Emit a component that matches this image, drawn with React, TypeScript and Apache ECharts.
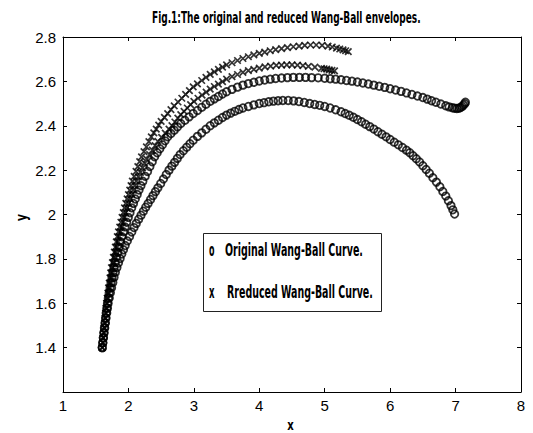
import React, { useEffect, useRef } from "react";
import * as echarts from "echarts";

const titleText = "Fig.1:The original and reduced Wang-Ball envelopes.";
const legendLabels = ["Original Wang-Ball Curve.", "Rreduced Wang-Ball Curve."];
const legendMarks = ["o", "x"];
const xAxisName = "x";
const yAxisName = "y";

// Original Wang-Ball curve (lower envelope, "o")
const originalLower: number[][] = [
  [1.600,1.400],[1.609,1.422],[1.618,1.444],[1.628,1.467],[1.638,1.489],[1.648,1.511],[1.658,1.533],[1.668,1.556],[1.679,1.578],[1.690,1.600],
  [1.707,1.624],[1.724,1.647],[1.742,1.670],[1.761,1.694],[1.780,1.717],[1.800,1.740],
  [1.824,1.761],[1.848,1.782],[1.873,1.802],[1.898,1.822],[1.924,1.841],[1.950,1.860],
  [1.983,1.881],[2.017,1.901],[2.051,1.921],[2.085,1.941],[2.120,1.960],
  [2.156,1.979],[2.192,1.997],[2.228,2.015],[2.264,2.033],[2.300,2.050],
  [2.338,2.068],[2.375,2.085],[2.413,2.103],[2.450,2.120],
  [2.493,2.140],[2.535,2.160],[2.578,2.180],[2.620,2.200],
  [2.663,2.218],[2.705,2.235],[2.748,2.253],[2.790,2.270],
  [2.840,2.287],[2.890,2.303],[2.940,2.319],[2.990,2.335],
  [3.055,2.352],[3.120,2.368],[3.185,2.384],[3.250,2.400],
  [3.313,2.413],[3.375,2.425],[3.438,2.437],[3.500,2.448],
  [3.563,2.457],[3.625,2.465],[3.688,2.473],[3.750,2.480],
  [3.833,2.487],[3.917,2.494],[4.000,2.500],
  [4.072,2.504],[4.144,2.508],[4.216,2.511],[4.288,2.513],[4.360,2.514],
  [4.442,2.514],[4.524,2.512],[4.606,2.509],[4.688,2.505],[4.770,2.500],
  [4.847,2.496],[4.923,2.492],[5.000,2.487],
  [5.083,2.480],[5.167,2.472],[5.250,2.463],
  [5.313,2.455],[5.375,2.447],[5.438,2.438],[5.500,2.428],
  [5.563,2.418],[5.625,2.407],[5.688,2.396],[5.750,2.385],
  [5.813,2.373],[5.875,2.362],[5.938,2.350],[6.000,2.338],
  [6.063,2.326],[6.125,2.314],[6.188,2.302],[6.250,2.290],
  [6.300,2.278],[6.350,2.265],[6.400,2.251],[6.450,2.237],
  [6.500,2.220],[6.550,2.203],[6.600,2.186],
  [6.653,2.166],[6.707,2.146],[6.760,2.125],
  [6.805,2.104],[6.850,2.083],[6.890,2.062],[6.930,2.040],[6.958,2.021],[6.985,2.002],
];

// Original Wang-Ball curve (upper envelope with end hook, "o")
const originalUpper: number[][] = [
  [1.600,1.400],[1.608,1.422],[1.616,1.444],[1.624,1.467],[1.633,1.489],[1.642,1.511],[1.651,1.533],[1.660,1.556],[1.670,1.578],[1.680,1.600],
  [1.693,1.623],[1.706,1.646],[1.720,1.669],[1.734,1.691],[1.749,1.714],[1.764,1.737],[1.780,1.760],
  [1.799,1.784],[1.818,1.807],[1.838,1.830],[1.858,1.853],[1.879,1.877],[1.900,1.900],
  [1.924,1.922],[1.948,1.944],[1.973,1.965],[1.998,1.987],[2.024,2.008],[2.050,2.030],
  [2.077,2.050],[2.105,2.070],[2.134,2.090],[2.162,2.110],[2.191,2.130],[2.220,2.150],
  [2.256,2.172],[2.292,2.194],[2.328,2.216],[2.364,2.238],[2.400,2.260],
  [2.440,2.278],[2.480,2.296],[2.520,2.314],[2.560,2.332],[2.600,2.350],
  [2.650,2.365],[2.700,2.380],[2.750,2.395],[2.800,2.410],
  [2.863,2.425],[2.927,2.440],[2.990,2.455],
  [3.055,2.469],[3.120,2.483],[3.185,2.497],[3.250,2.510],
  [3.313,2.521],[3.375,2.532],[3.438,2.543],[3.500,2.553],
  [3.583,2.564],[3.667,2.574],[3.750,2.583],
  [3.833,2.590],[3.917,2.596],[4.000,2.602],
  [4.083,2.606],[4.167,2.610],[4.250,2.613],
  [4.340,2.615],[4.430,2.617],[4.520,2.618],
  [4.613,2.618],[4.707,2.618],[4.800,2.617],
  [4.900,2.616],[5.000,2.614],
  [5.083,2.612],[5.167,2.610],[5.250,2.607],
  [5.333,2.604],[5.417,2.601],[5.500,2.597],
  [5.583,2.593],[5.667,2.588],[5.750,2.583],
  [5.833,2.578],[5.917,2.573],[6.000,2.567],
  [6.083,2.561],[6.167,2.555],[6.250,2.548],
  [6.333,2.541],[6.417,2.534],[6.500,2.527],
  [6.567,2.520],[6.633,2.513],[6.700,2.506],
  [6.775,2.498],[6.850,2.490],[6.900,2.485],[6.950,2.481],
  [6.985,2.479],[7.020,2.478],[7.050,2.479],[7.075,2.482],[7.100,2.487],[7.120,2.493],[7.140,2.499],[7.150,2.506],
];

// Reduced Wang-Ball curve (upper envelope, "x")
const reducedUpper: number[][] = [
  [1.600,1.400],[1.607,1.422],[1.614,1.444],[1.621,1.467],[1.628,1.489],[1.635,1.511],[1.643,1.533],[1.650,1.556],[1.657,1.578],[1.665,1.600],
  [1.675,1.623],[1.686,1.646],[1.696,1.669],[1.707,1.691],[1.718,1.714],[1.729,1.737],[1.740,1.760],
  [1.755,1.783],[1.770,1.807],[1.785,1.830],[1.800,1.853],[1.815,1.877],[1.830,1.900],
  [1.848,1.922],[1.867,1.943],[1.885,1.965],[1.903,1.987],[1.922,2.008],[1.940,2.030],
  [1.960,2.050],[1.980,2.070],[2.000,2.090],[2.020,2.110],[2.040,2.130],[2.060,2.150],
  [2.088,2.172],[2.116,2.194],[2.144,2.216],[2.172,2.238],[2.200,2.260],
  [2.238,2.283],[2.275,2.305],[2.313,2.328],[2.350,2.350],
  [2.388,2.368],[2.425,2.385],[2.463,2.403],[2.500,2.420],
  [2.550,2.438],[2.600,2.455],[2.650,2.473],[2.700,2.490],
  [2.758,2.507],[2.816,2.524],[2.874,2.541],[2.932,2.558],[2.990,2.575],
  [3.055,2.589],[3.120,2.604],[3.185,2.618],[3.250,2.632],
  [3.313,2.643],[3.375,2.654],[3.438,2.664],[3.500,2.674],
  [3.583,2.684],[3.667,2.694],[3.750,2.703],
  [3.833,2.711],[3.917,2.719],[4.000,2.726],
  [4.083,2.732],[4.167,2.738],[4.250,2.743],
  [4.340,2.748],[4.430,2.752],[4.520,2.756],
  [4.608,2.759],[4.695,2.762],[4.783,2.764],[4.870,2.764],
  [4.960,2.762],[5.050,2.759],[5.115,2.755],[5.180,2.750],
  [5.230,2.746],[5.280,2.742],[5.320,2.738],[5.360,2.734],
];

// Reduced Wang-Ball curve (lower envelope, "x")
const reducedLower: number[][] = [
  [1.600,1.400],[1.608,1.422],[1.617,1.444],[1.625,1.467],[1.633,1.489],[1.642,1.511],[1.650,1.533],[1.658,1.556],[1.667,1.578],[1.675,1.600],
  [1.687,1.623],[1.699,1.646],[1.711,1.669],[1.724,1.691],[1.736,1.714],[1.748,1.737],[1.760,1.760],
  [1.777,1.783],[1.793,1.807],[1.810,1.830],[1.827,1.853],[1.843,1.877],[1.860,1.900],
  [1.880,1.922],[1.900,1.943],[1.920,1.965],[1.940,1.987],[1.960,2.008],[1.980,2.030],
  [2.003,2.050],[2.027,2.070],[2.050,2.090],[2.073,2.110],[2.097,2.130],[2.120,2.150],
  [2.152,2.170],[2.184,2.190],[2.216,2.210],[2.248,2.230],[2.280,2.250],
  [2.323,2.270],[2.365,2.290],[2.408,2.310],[2.450,2.330],
  [2.507,2.348],[2.563,2.367],[2.620,2.385],
  [2.665,2.401],[2.710,2.417],[2.755,2.434],[2.800,2.450],
  [2.850,2.465],[2.900,2.480],[2.950,2.495],[3.000,2.510],
  [3.063,2.524],[3.125,2.538],[3.188,2.552],[3.250,2.565],
  [3.313,2.577],[3.375,2.588],[3.438,2.599],[3.500,2.610],
  [3.583,2.621],[3.667,2.631],[3.750,2.641],
  [3.833,2.648],[3.917,2.654],[4.000,2.660],
  [4.087,2.665],[4.173,2.669],[4.260,2.672],
  [4.340,2.673],[4.420,2.674],[4.500,2.674],
  [4.583,2.673],[4.667,2.671],[4.750,2.668],
  [4.850,2.664],[4.950,2.659],
  [4.990,2.657],[5.030,2.655],[5.070,2.652],[5.110,2.650],[5.150,2.647],
];

const CF = "'DejaVu Sans Condensed', 'DejaVu Sans', sans-serif";
const TICK_FONT = "'Liberation Sans', Arial, sans-serif";

function measure(text: string, font: string): number {
  const ctx = document.createElement("canvas").getContext("2d");
  if (!ctx) return text.length * 8;
  ctx.font = font;
  return ctx.measureText(text).width || text.length * 8;
}

function fittedText(
  text: string,
  x: number,
  y: number,
  targetWidth: number,
  size: number,
  align: "left" | "center" = "left",
  rotation = 0
) {
  const font = `bold ${size}px ${CF}`;
  const w = measure(text, font);
  return {
    type: "text",
    x,
    y,
    rotation,
    scaleX: targetWidth / w,
    silent: true,
    z: 100,
    style: {
      text,
      x: 0,
      y: 0,
      font,
      fill: "#000",
      align,
      verticalAlign: "middle",
      textAlign: align,
      textVerticalAlign: "middle",
    },
  };
}

const mkLine = () => ({ show: true, lineStyle: { color: "#000", width: 1 } });
const mkTick = () => ({ show: true, inside: true, length: 4, lineStyle: { color: "#000", width: 1 } });

export default function App() {
  const ref = useRef<HTMLDivElement>(null);

  useEffect(() => {
    document.body.style.margin = "0";
    if (!ref.current) return;
    const chart = echarts.init(ref.current, undefined, { renderer: "svg" });

    const circleStyle = { color: "rgba(0,0,0,0)", borderColor: "#000", borderWidth: 1.8 };
    const crossStyle = { color: "rgba(0,0,0,0)", borderColor: "#000", borderWidth: 1.7 };
    const crossSymbol = "path://M0 0L10 10M10 0L0 10";

    chart.setOption({
      animation: false,
      backgroundColor: "#fff",
      grid: { left: 63, right: 12, top: 37, bottom: 41 },
      xAxis: [
        {
          type: "value",
          min: 1,
          max: 8,
          interval: 1,
          position: "bottom",
          axisLine: mkLine(),
          axisTick: mkTick(),
          splitLine: { show: false },
          axisLabel: { color: "#000", fontSize: 15, fontFamily: TICK_FONT, margin: 6 },
        },
        {
          type: "value",
          min: 1,
          max: 8,
          interval: 1,
          position: "top",
          axisLine: mkLine(),
          axisTick: mkTick(),
          splitLine: { show: false },
          axisLabel: { show: false },
        },
      ],
      yAxis: [
        {
          type: "value",
          min: 1.2,
          max: 2.8,
          interval: 0.2,
          position: "left",
          axisLine: mkLine(),
          axisTick: mkTick(),
          splitLine: { show: false },
          axisLabel: {
            color: "#000",
            fontSize: 15,
            fontFamily: TICK_FONT,
            margin: 7,
            showMinLabel: false,
            formatter: (v: number) => String(Math.round(v * 10) / 10),
          },
        },
        {
          type: "value",
          min: 1.2,
          max: 2.8,
          interval: 0.2,
          position: "right",
          axisLine: mkLine(),
          axisTick: mkTick(),
          splitLine: { show: false },
          axisLabel: { show: false },
        },
      ],
      series: [
        {
          type: "scatter",
          name: "Original lower",
          data: originalLower,
          symbol: "circle",
          symbolSize: 7.5,
          itemStyle: circleStyle,
          silent: true,
        },
        {
          type: "scatter",
          name: "Original upper",
          data: originalUpper,
          symbol: "circle",
          symbolSize: 7.5,
          itemStyle: circleStyle,
          silent: true,
        },
        {
          type: "scatter",
          name: "Reduced lower",
          data: reducedLower,
          symbol: crossSymbol,
          symbolSize: 6.5,
          itemStyle: crossStyle,
          silent: true,
        },
        {
          type: "scatter",
          name: "Reduced upper",
          data: reducedUpper,
          symbol: crossSymbol,
          symbolSize: 6.5,
          itemStyle: crossStyle,
          silent: true,
        },
      ],
      graphic: [
        fittedText(titleText, 152, 17.5, 269, 16, "left"),
        {
          type: "rect",
          shape: { x: 203.5, y: 233.5, width: 178, height: 78 },
          style: { fill: "#fff", stroke: "#222", lineWidth: 1 },
          z: 90,
          silent: true,
        },
        fittedText(legendMarks[0], 209, 250, 5.5, 18, "left"),
        fittedText(legendLabels[0], 225, 249.5, 138, 18, "left"),
        fittedText(legendMarks[1], 209, 291.5, 5.5, 18, "left"),
        fittedText(legendLabels[1], 227, 291, 146, 18, "left"),
        fittedText(xAxisName, 290.5, 425.5, 6.5, 14, "center"),
        fittedText(yAxisName, 21.5, 217.5, 7, 15, "center", Math.PI / 2),
      ],
    });

    return () => chart.dispose();
  }, []);

  return <div ref={ref} style={{ width: 533, height: 433 }} />;
}
